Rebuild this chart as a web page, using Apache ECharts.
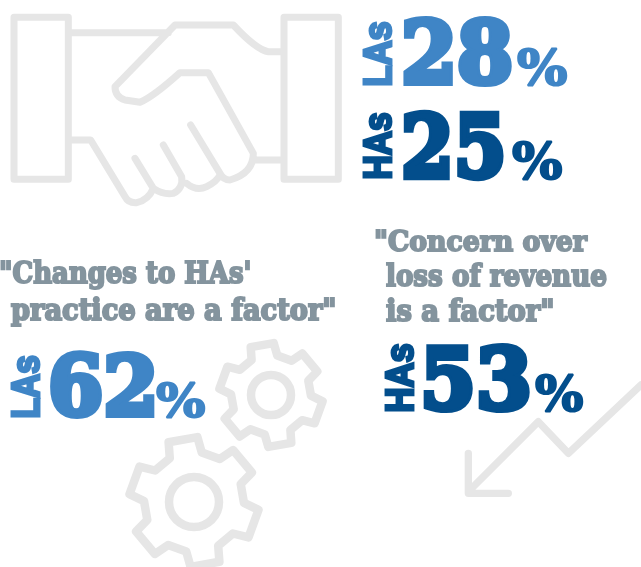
<!DOCTYPE html>
<html>
<head>
<meta charset="utf-8">
<script src="https://cdn.jsdelivr.net/npm/echarts@6/dist/echarts.min.js"></script>
<style>
  html, body { margin: 0; padding: 0; background: #fff; }
  #main { width: 641px; height: 567px; }
</style>
</head>
<body>
<div id="main"></div>
<script>
// what the picture says
var statValues = [28, 25, 62, 53];
var statGroups = ['LAs', 'HAs', 'LAs', 'HAs'];
var quoteLeft = ['"Changes to HAs\'', 'practice are a factor"'];
var quoteRight = ['"Concern over', 'loss of revenue', 'is a factor"'];

var LIGHT_BLUE = '#3f85c6';
var DARK_BLUE = '#034e8c';
var QUOTE_GREY = '#84949e';
var ICON_GREY = '#e6e6e6';

var SERIF = '"DejaVu Serif"';
var SANS = '"Liberation Sans"';

// where each stat sits: [x0, y0, x1, y1] ink boxes
var statBoxes = [
  { label: [362, 21, 392, 86], num: [403, 16, 512, 87], pct: [517, 47, 568, 87] },
  { label: [362, 112, 392, 179], num: [403, 110, 504, 181], pct: [512, 140, 563, 181] },
  { label: [10, 355, 40, 418], num: [50, 350, 155, 419], pct: [156, 380, 206, 419] },
  { label: [384, 343, 414, 412], num: [423, 343, 530, 413], pct: [535, 373, 584, 413] }
];
var quoteLeftBoxes = [[0, 260, 250, 290], [10, 297, 335, 327]];
var quoteRightBoxes = [[375, 229, 589, 252], [385, 263, 607, 287], [385, 298, 553, 322]];

var ctx = document.createElement('canvas').getContext('2d');

// scale a text so that its ink fills the box
function fitText(str, font, box, color, stroke) {
  ctx.font = font;
  ctx.textBaseline = 'middle';
  ctx.textAlign = 'left';
  var m = ctx.measureText(str);
  var sx = (box[2] - box[0]) / (m.actualBoundingBoxLeft + m.actualBoundingBoxRight + stroke);
  var sy = (box[3] - box[1]) / (m.actualBoundingBoxAscent + m.actualBoundingBoxDescent + stroke);
  return {
    type: 'text',
    x: box[0] + (m.actualBoundingBoxLeft + stroke / 2) * sx,
    y: box[1] + (m.actualBoundingBoxAscent + stroke / 2) * sy,
    scaleX: sx,
    scaleY: sy,
    style: {
      text: str, font: font, fill: color, stroke: color, lineWidth: stroke,
      align: 'left', verticalAlign: 'middle'
    }
  };
}

// same, for the labels that read bottom to top
function fitVertical(str, font, box, color, stroke) {
  ctx.font = font;
  ctx.textBaseline = 'middle';
  ctx.textAlign = 'left';
  var m = ctx.measureText(str);
  var sx = (box[3] - box[1]) / (m.actualBoundingBoxLeft + m.actualBoundingBoxRight + stroke);
  var sy = (box[2] - box[0]) / (m.actualBoundingBoxAscent + m.actualBoundingBoxDescent + stroke);
  return {
    type: 'text',
    x: box[0] + (m.actualBoundingBoxAscent + stroke / 2) * sy,
    y: box[3] - (m.actualBoundingBoxLeft + stroke / 2) * sx,
    rotation: Math.PI / 2,
    scaleX: sx,
    scaleY: sy,
    style: {
      text: str, font: font, fill: color, stroke: color, lineWidth: stroke,
      align: 'left', verticalAlign: 'middle'
    }
  };
}

function iconStyle(width) {
  return { fill: 'none', stroke: ICON_GREY, lineWidth: width, lineJoin: 'round', lineCap: 'round' };
}

// handshake, drawn in 3x coordinates
var handshakePath =
  'M42 52H205V538H42Z M852 52H1015V538H852Z' +
  'M205 98H505 M845 155H805Q770 150 700 75H525L345 260Q345 290 375 300L420 307Q460 290 540 218H625L760 460Q760 520 690 540Q670 540 660 520L572 375' +
  'M770 480H845 M205 420H272L375 590Q385 610 410 608Q445 600 460 565L405 475' +
  'M460 565Q490 585 520 580Q550 565 545 530L490 435 M560 550Q590 575 620 560Q650 545 660 525';

var arrowPath = 'M843 510L625 715L535 620L330 825 M325 715V835H445';

function gearPath(cx, cy, tip, root, hole) {
  var d = '';
  var rad = Math.PI / 180;
  function pt(r, a) {
    return (cx + r * Math.cos(a * rad)).toFixed(1) + ' ' + (cy + r * Math.sin(a * rad)).toFixed(1);
  }
  for (var i = 0; i < 6; i++) {
    var a = -100 + i * 60;
    d += (i ? 'L' : 'M') + pt(root, a - 19) + 'L' + pt(tip, a - 13) + 'L' + pt(tip, a + 13) + 'L' + pt(root, a + 19);
  }
  d += 'Z';
  d += 'M' + (cx + hole) + ' ' + cy + 'A' + hole + ' ' + hole + ' 0 1 1 ' + (cx - hole) + ' ' + cy +
       'A' + hole + ' ' + hole + ' 0 1 1 ' + (cx + hole) + ' ' + cy + 'Z';
  return d;
}

// the graphic component only knows shapes by name, so register the icons
echarts.graphic.registerShape('handshake', echarts.graphic.extendPath(handshakePath, {}));
echarts.graphic.registerShape('arrowDown', echarts.graphic.extendPath(arrowPath, {}));
echarts.graphic.registerShape('gearSmall', echarts.graphic.extendPath(gearPath(271, 395, 52, 40, 20), {}));
echarts.graphic.registerShape('gearBig', echarts.graphic.extendPath(gearPath(194, 502, 65, 50, 25), {}));

var elements = [
  { type: 'handshake', scaleX: 1 / 3, scaleY: 1 / 3, style: iconStyle(21) },
  { type: 'arrowDown', x: 360, y: 215, scaleX: 1 / 3, scaleY: 1 / 3, style: iconStyle(22) },
  { type: 'gearSmall', style: iconStyle(8.5) },
  { type: 'gearBig', style: iconStyle(8.5) }
];

quoteLeft.forEach(function (line, i) {
  elements.push(fitText(line, 'bold 28px ' + SERIF, quoteLeftBoxes[i], QUOTE_GREY, 2));
});
quoteRight.forEach(function (line, i) {
  elements.push(fitText(line, 'bold 28px ' + SERIF, quoteRightBoxes[i], QUOTE_GREY, 2));
});

statValues.forEach(function (value, i) {
  var color = statGroups[i] === 'LAs' ? LIGHT_BLUE : DARK_BLUE;
  var box = statBoxes[i];
  elements.push(fitVertical(statGroups[i], 'bold 40px ' + SANS, box.label, color, 3));
  elements.push(fitText(String(value), 'bold 96px ' + SERIF, box.num, color, 7));
  elements.push(fitText('%', 'bold 50px ' + SERIF, box.pct, color, 2));
});

var chart = echarts.init(document.getElementById('main'));
chart.setOption({
  backgroundColor: '#ffffff',
  animation: false,
  graphic: { elements: elements }
});
</script>
</body>
</html>
